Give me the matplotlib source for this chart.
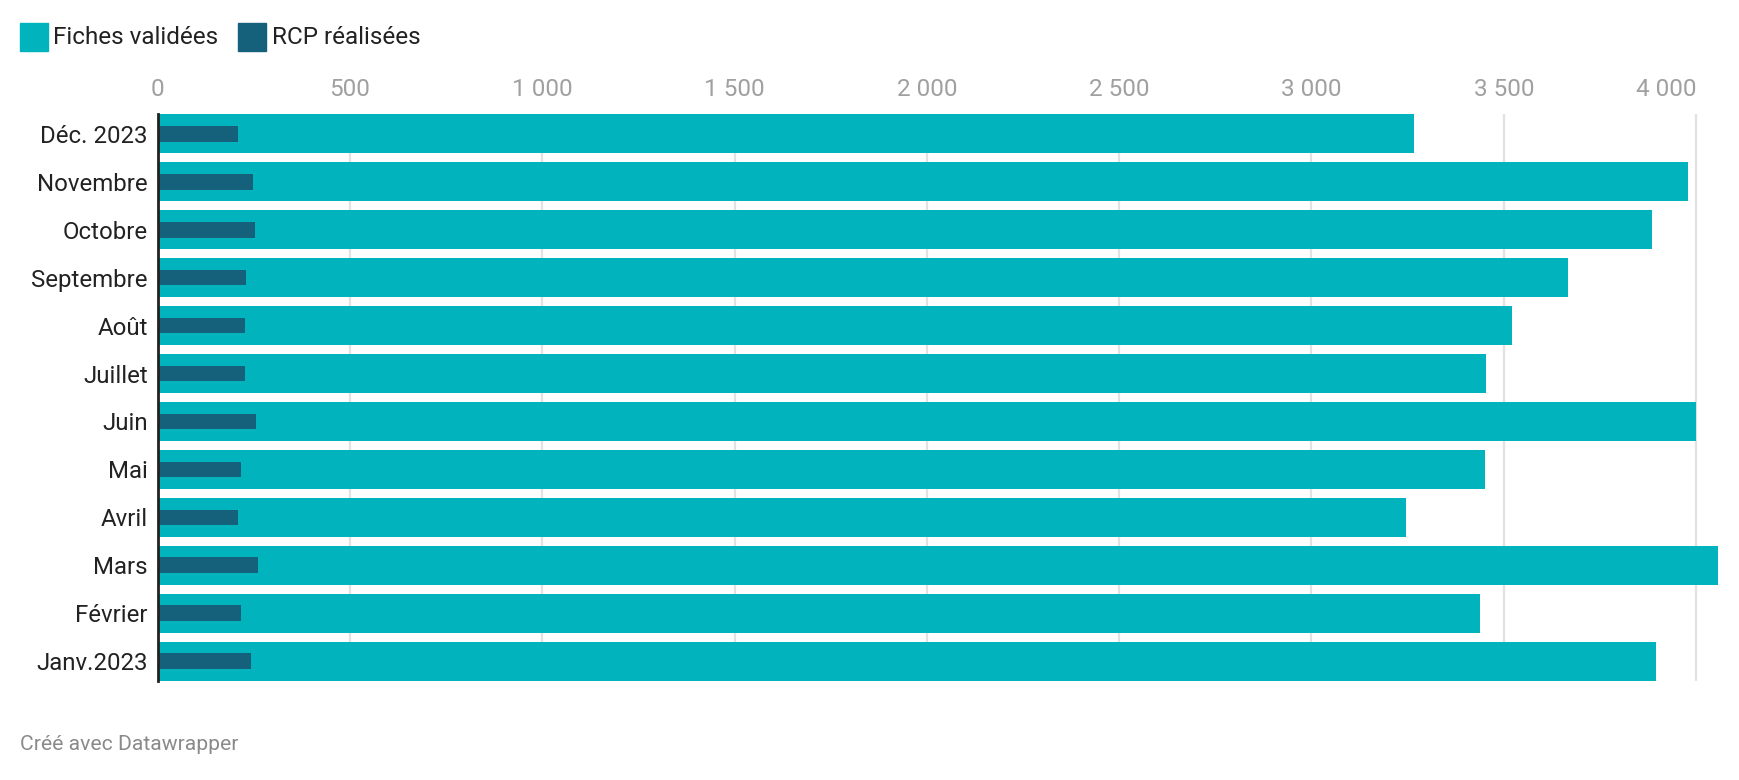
import matplotlib.pyplot as plt
from matplotlib.patches import Rectangle

plt.rcParams['font.family'] = ['Roboto', 'DejaVu Sans']

mois = ["Déc. 2023", "Novembre", "Octobre", "Septembre", "Août", "Juillet",
        "Juin", "Mai", "Avril", "Mars", "Février", "Janv.2023"]
fiches = [3266, 3979, 3886, 3668, 3522, 3455, 4000, 3450, 3247, 4057, 3439, 3896]
rcp = [210, 247, 252, 231, 226, 226, 257, 216, 210, 262, 216, 242]
ticks = [0, 500, 1000, 1500, 2000, 2500, 3000, 3500, 4000]

c_fiches = "#00b3bc"
c_rcp = "#15607a"

W, H = 1740, 780
fig = plt.figure(figsize=(W / 100, H / 100), dpi=100)
ax = fig.add_axes([157.6 / W, 1 - 681 / H, (1718 - 157.6) / W, (681 - 114) / H])

y = list(range(len(mois)))
ax.barh(y, fiches, height=0.82, color=c_fiches, zorder=2)
ax.barh(y, rcp, height=0.33, color=c_rcp, zorder=3)

ax.set_ylim(len(mois) - 0.59, -0.41)
ax.set_xlim(0, max(fiches))
ax.set_yticks(y)
ax.set_yticklabels(mois, fontsize=17.3, color="#222222")
ax.xaxis.tick_top()
ax.set_xticks(ticks)
ax.set_xticklabels([f"{t:,}".replace(",", " ") for t in ticks], fontsize=17.5, color="#a0a0a0")
ax.tick_params(axis="x", length=0, pad=9)
ax.tick_params(axis="y", length=0, pad=7)
# le dernier libellé est calé à droite de sa ligne
ax.xaxis.get_major_ticks()[-1].label2.set_horizontalalignment("right")
ax.grid(axis="x", color="#e2e2e2", linewidth=1.6, zorder=0)
ax.set_axisbelow(True)
for s in ["top", "right", "bottom"]:
    ax.spines[s].set_visible(False)
ax.spines["left"].set_color("#222222")
ax.spines["left"].set_linewidth(2)
ax.spines["left"].set_zorder(5)

# légende
for x0, col, lab in [(20, c_fiches, "Fiches validées"), (238.5, c_rcp, "RCP réalisées")]:
    fig.patches.append(Rectangle((x0 / W, 1 - 51 / H), 28 / W, 28 / H,
                                 transform=fig.transFigure, color=col))
    fig.text((x0 + 33) / W, 1 - 37 / H, lab, fontsize=17.5, color="#222222", va="center")

fig.text(20 / W, 1 - 744 / H, "Créé avec Datawrapper", fontsize=15.2, color="#8a8a8a", va="center")

fig.savefig("out.png", dpi=100)
